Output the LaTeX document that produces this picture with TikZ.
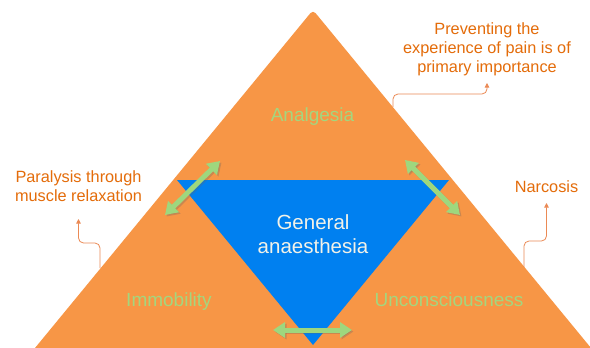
\documentclass[tikz,border=0pt]{standalone}
\usepackage{fontspec}
\setmainfont{Liberation Sans}
\usetikzlibrary{arrows.meta}
\definecolor{tri}{HTML}{F79646}
\definecolor{gablue}{HTML}{0080F0}
\definecolor{grn}{HTML}{9ED77E}
\definecolor{grntext}{HTML}{A4D67E}
\definecolor{cotext}{HTML}{E46C0A}
\definecolor{coline}{HTML}{EB8A55}
\definecolor{whtext}{HTML}{F2F2E8}
\begin{document}
\begin{tikzpicture}[x=1pt,y=-1pt,
  lbl/.style={text=grntext,font=\fontsize{19}{23}\selectfont,inner sep=0pt},
  center/.style={text=whtext,font=\fontsize{20.5}{24}\selectfont,align=center,inner sep=0pt},
  callout/.style={text=cotext,font=\fontsize{16.3}{19}\selectfont,align=center,inner xsep=0pt},
  coline/.style={draw=coline,line width=0.8pt,rounded corners=5pt,-{Triangle[width=4.5pt,length=4.5pt]}},
  garrow/.style={draw=grn,line width=5pt,{Triangle[width=15pt,length=12pt]}-{Triangle[width=15pt,length=12pt]}},
  gshadow/.style={draw=black!60,opacity=0.3,line width=5pt,{Triangle[width=15pt,length=12pt]}-{Triangle[width=15pt,length=12pt]},transform canvas={xshift=1.5pt,yshift=-1.5pt}}]
\useasboundingbox (0,0) rectangle (590,348);
\fill[white] (0,0) rectangle (590,348);
% orange triangle
\fill[tri] (35,348) [rounded corners=4pt] -- (313,10) [sharp corners] -- (591,348) -- cycle;
% blue inverted triangle
\fill[gablue] (177,180) -- (449,180) -- (313,345) -- cycle;
% labels
\node[lbl,anchor=base] (analg) at (312.5,121.5) {Analgesia};
\node[lbl,anchor=base] (immob) at (169,306.5) {Immobility};
\node[lbl,anchor=base] (uncon) at (449,306.5) {Unconsciousness};
\node[center] (ga) at (313,234) {General\\anaesthesia};
% green double arrows
\coordinate (la1) at (165,215);
\coordinate (la2) at (220,161);
\coordinate (ra1) at (405,160);
\coordinate (ra2) at (460,215);
\coordinate (ba1) at (273,330);
\coordinate (ba2) at (352,330);
\draw[gshadow] (la1) -- (la2);
\draw[gshadow] (ra1) -- (ra2);
\draw[gshadow] (ba1) -- (ba2);
\draw[garrow] (la1) -- (la2);
\draw[garrow] (ra1) -- (ra2);
\draw[garrow] (ba1) -- (ba2);
% callouts
\node[callout,anchor=south,inner ysep=6.5pt] (pain) at (487,83) {Preventing the\\experience of pain is of\\primary importance};
\node[callout,anchor=south,inner ysep=17pt] (para) at (78.5,219) {Paralysis through\\muscle relaxation};
\node[callout,anchor=south,inner ysep=10pt] (narc) at (546.5,203) {Narcosis};
\coordinate (ps) at (393,107);
\coordinate (pb) at (393,94);
\coordinate (ls) at (100,268);
\coordinate (lb) at (100,243);
\coordinate (rs) at (524,267);
\coordinate (rb) at (524,241);
\draw[coline] (ps) -- (pb) -| (pain.south);
\draw[coline] (ls) -- (lb) -| (para.south);
\draw[coline] (rs) -- (rb) -| (narc.south);
\end{tikzpicture}
\end{document}
